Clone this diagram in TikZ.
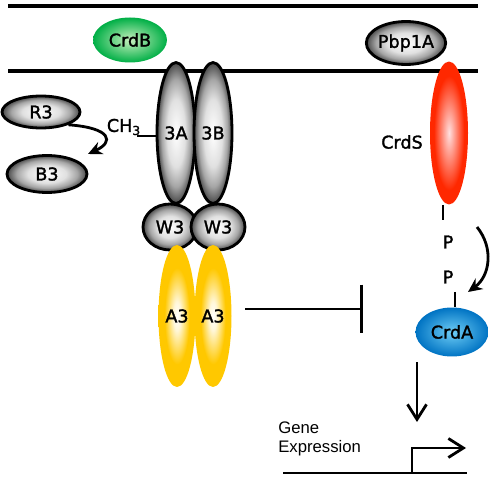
\documentclass[tikz,border=0pt]{standalone}
\usepackage{fontspec}
\setmainfont{DejaVu Sans}[FakeBold=1.6]
\newfontfamily\genefont{Liberation Sans}
\usetikzlibrary{shapes.geometric,arrows.meta,positioning}

\definecolor{crdgreen}{RGB}{0,175,70}
\definecolor{crdpale}{RGB}{200,240,190}
\definecolor{crdred}{RGB}{255,40,0}
\definecolor{crdblue}{RGB}{0,115,195}
\definecolor{crdsky}{RGB}{110,205,245}
\definecolor{crdgold}{RGB}{255,200,0}

% glow shadings for the proteins
\pgfdeclareradialshading{grayglow}{\pgfpointorigin}{color(0bp)=(white); color(12bp)=(white!88!black); color(19bp)=(black!35); color(25bp)=(black!72); color(50bp)=(black!72)}
\pgfdeclareradialshading{greenglow}{\pgfpointorigin}{color(0bp)=(crdpale); color(25bp)=(crdgreen); color(50bp)=(crdgreen)}
\pgfdeclareradialshading{redglow}{\pgfpointorigin}{color(0bp)=(red!12!white); color(20bp)=(crdred); color(50bp)=(crdred)}
\pgfdeclareradialshading{blueglow}{\pgfpointorigin}{color(0bp)=(crdsky); color(25bp)=(crdblue); color(50bp)=(crdblue)}
\pgfdeclareradialshading{goldglow}{\pgfpointorigin}{color(0bp)=(white); color(5bp)=(white!85!crdgold); color(17bp)=(crdgold); color(50bp)=(crdgold)}

\begin{document}
\begin{tikzpicture}[x=0.02cm,y=-0.02cm,
    prot/.style={ellipse,inner sep=0pt,font=\fontsize{10}{12}\selectfont},
    grayprot/.style={prot,draw=black,line width=1.6pt,shading=grayglow},
    membrane/.style={line width=2pt},
    plain/.style={line width=1.6pt},
    curvearrow/.style={plain,-{Stealth[length=0.28cm,width=0.26cm]}},
    barbarrow/.style={plain,-{Straight Barb[length=0.3cm,width=0.38cm]}}]
\useasboundingbox (0,0) rectangle (500,479);

% membranes
\draw[membrane] (8,6) -- (478,6);
\draw[membrane] (8,71) -- (478,71);

\node[prot,shading=greenglow,minimum width=1.48cm,minimum height=0.9cm] (crdb) at (130,40) {CrdB};
\node[grayprot,minimum width=1.48cm,minimum height=0.86cm] (pbp) at (406,43) {Pbp1A};

% receptor complex
\node[grayprot,minimum width=0.76cm,minimum height=2.82cm] (sa) at (176,133) {3A};
\node[grayprot,minimum width=0.76cm,minimum height=2.82cm] (sb) at (213,133) {3B};
\node[grayprot,minimum width=1.08cm,minimum height=0.92cm] (wa) at (170,227) {W3};
\node[grayprot,minimum width=1.08cm,minimum height=0.92cm] (wb) at (218,227) {W3};
\node[prot,shading=goldglow,minimum width=0.74cm,minimum height=2.84cm] (aa) at (177,316) {A3};
\node[prot,shading=goldglow,minimum width=0.74cm,minimum height=2.84cm] (ab) at (213,316) {A3};

% methylation
\node[grayprot,minimum width=1.56cm,minimum height=0.64cm] (r3) at (41,112) {R3};
\node[grayprot,minimum width=1.6cm,minimum height=0.74cm] (b3) at (47,174) {B3};
\node[prot] (ch3) at (124,127) {CH\textsubscript{3}};
\coordinate (ch3end) at (137,136);
\coordinate (b3tip) at (88,154);
\draw[plain] (ch3end) -- (ch3end -| sa.west);
\draw[curvearrow] (r3.-25) .. controls (112,128) and (114,142) .. (b3tip);

% sensor kinase and regulator
\node[prot,shading=redglow,minimum width=0.76cm,minimum height=2.86cm] (crds) at (449,133) {};
\node[prot] (crdslabel) at (402,142) {CrdS};
\node[prot,shading=blueglow,minimum width=1.46cm,minimum height=0.98cm] (crda) at (452,332) {CrdA};
\node[prot] (p1) at (448,242) {P};
\node[prot] (p2) at (448,277) {P};
\coordinate (pS) at (443,220);
\coordinate (pA) at (455,292);
\draw[plain] (pS |- crds.south) -- (pS);
\draw[plain] (pA) -- (pA |- crda.north);
\coordinate (kin1) at (477,227);
\coordinate (kin2) at (468,292);
\draw[curvearrow] (kin1) .. controls (494,248) and (490,276) .. (kin2);

% inhibition
\coordinate (inhstart) at (245,309);
\coordinate (inhend) at (363,309);
\draw[plain,-{Bar[width=0.98cm]}] (inhstart) -- (inhend);

% gene expression
\coordinate (actstart) at (417,362);
\coordinate (actend) at (417,422);
\draw[barbarrow] (actstart) -- (actend);
\node[font=\genefont\fontsize{9.5}{10.4}\selectfont,align=left,anchor=west,inner sep=0pt] (gene) at (278,439) {Gene\\Expression};
\coordinate (dnaL) at (283,473);
\coordinate (dnaR) at (467,473);
\coordinate (prom) at (412,473);
\coordinate (promend) at (466,448);
\draw[plain] (dnaL) -- (dnaR);
\draw[barbarrow] (prom) |- (promend);
\end{tikzpicture}
\end{document}
